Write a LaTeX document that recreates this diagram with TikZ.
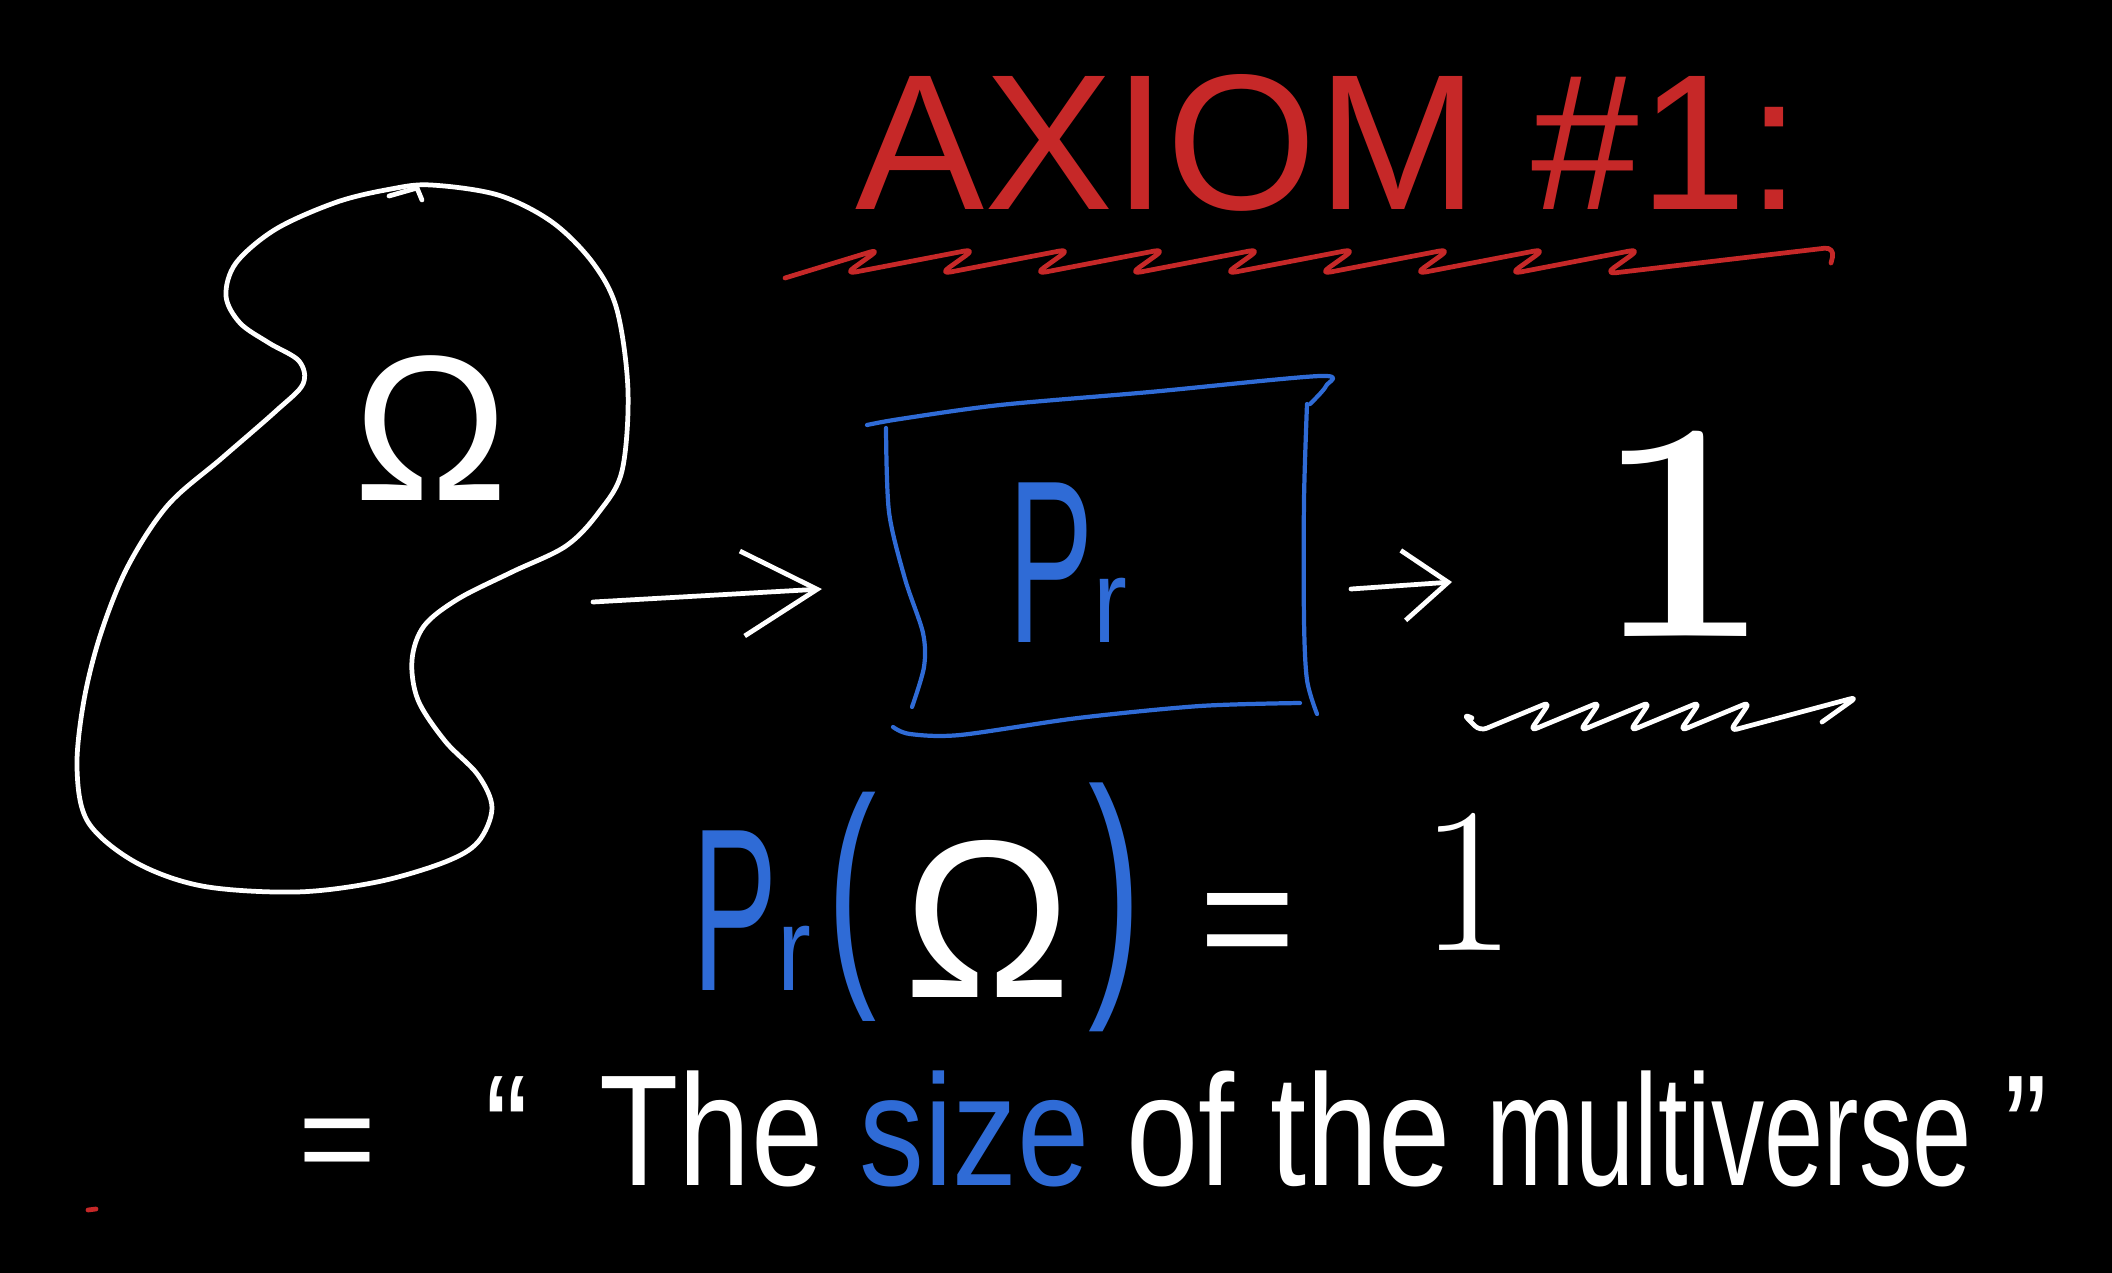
\documentclass[tikz,border=0pt]{standalone}
\usepackage{fontspec}
\usepackage{xcolor}
\usepackage{graphicx}
\usetikzlibrary{arrows.meta, positioning, calc}
\newfontfamily\handfont{Liberation Sans}

\begin{document}
\begin{tikzpicture}[x=0.01cm, y=-0.01cm,
  ink/.style={line width=1.35pt, line cap=round, line join=round},
  txt/.style={inner sep=0pt, outer sep=0pt, font=\handfont}]
% --- colours of the pens ---
\definecolor{inkred}{HTML}{C62828}
\definecolor{inkblue}{HTML}{2F6BD6}

% board
\fill[black] (0,0) rectangle (2112,1273);
\useasboundingbox (0,0) rectangle (2112,1273);

% title and its scribbled underline
\node[txt, text=inkred, anchor=base west] (title) at (855,209) {\fontsize{55}{55}\selectfont AXIOM \#1:};
\draw[ink, inkred, rounded corners=3pt] (785,278)
  \foreach \i in {0,...,8} { -- ({880+95*\i},249) -- ({845+95*\i},274) }
  -- (1835,247) -- (1831,263);

% the sample space blob
\draw[ink, white] plot[smooth cycle, tension=0.55] coordinates {
  (431,185) (498,195) (552,222) (593,263) (617,310) (628,391) (622,471)
  (599,512) (566,546) (512,572) (458,599) (424,626) (412,660) (418,700)
  (445,741) (478,775) (492,808) (478,842) (445,862) (377,882) (296,892)
  (202,886) (135,862) (88,822) (77,768) (84,700) (101,633) (128,566)
  (168,505) (222,458) (276,411) (303,384) (299,361) (269,343) (240,323)
  (226,296) (236,263) (276,229) (337,202) (391,189)};
\draw[ink, white] (389,196) -- (417,188) -- (422,200);
\node[txt, text=white, anchor=base] (omega) at (431,500) {\fontsize{59}{59}\selectfont Ω};

% arrow into the box
\coordinate (blobR) at (593,602);
\coordinate (boxL) at (822,589);
\draw[ink, white, -{Straight Barb[length=0.75cm, width=0.85cm]}] (blobR) -- (boxL);

% the Pr box
\begin{scope}[ink, inkblue, line width=1.2pt]
\draw plot[smooth, tension=0.5] coordinates {(867,425) (900,419) (1000,405) (1150,392) (1320,376) (1326,386) (1310,404)};
\draw plot[smooth, tension=0.5] coordinates {(886,428) (889,512) (905,579) (923,633) (924,667) (912,707)};
\draw plot[smooth, tension=0.5] coordinates {(1307,404) (1304,500) (1304,620) (1307,680) (1317,714)};
\draw plot[smooth, tension=0.5] coordinates {(893,727) (910,734) (960,735) (1078,718) (1200,706) (1300,703)};
\end{scope}
\node[txt, text=inkblue, anchor=base west] (prA) at (1008,642)
  {\fontsize{66}{66}\selectfont\scalebox{0.55}[1]{P}\fontsize{34}{34}\selectfont\scalebox{0.85}[1]{r}};

% arrow out of the box
\coordinate (boxR) at (1351,589);
\coordinate (oneL) at (1452,582);
\draw[ink, white, -{Straight Barb[length=0.45cm, width=0.7cm]}] (boxR) -- (oneL);

% the result and its scribble
\node[txt, text=white, anchor=base, font=\rmfamily\bfseries] (bigone) at (1684,636) {\fontsize{89}{89}\selectfont 1};
\draw[ink, white, rounded corners=2pt] (1472,718) -- (1463,714) -- (1480,731)
  \foreach \i in {0,...,4} { -- ({1550+50*\i},702) -- ({1530+50*\i},731) }
  -- (1857,697) -- (1822,722);

% Pr(Omega) = 1
\node[txt, text=inkblue, anchor=base west] (prB) at (692,990)
  {\fontsize{66}{66}\selectfont\scalebox{0.55}[1]{P}\fontsize{34}{34}\selectfont\scalebox{0.85}[1]{r}};
\node[txt, text=inkblue] (lpar) at (852,907) {\fontsize{70}{70}\selectfont\scalebox{0.6}[1]{(}};
\node[txt, text=white, anchor=base] (omegaB) at (988,997) {\fontsize{64}{64}\selectfont Ω};
\node[txt, text=inkblue] (rpar) at (1115,907) {\fontsize{76}{76}\selectfont\scalebox{0.6}[1]{)}};
\node[txt, text=white, anchor=base] (eqA) at (1248,974) {\fontsize{47}{47}\selectfont =};
\node[txt, text=white, anchor=base, font=\rmfamily] (oneB) at (1468,950) {\fontsize{59}{59}\selectfont 1};

% the words
\node[txt, text=white, anchor=base] (eqB) at (338,1184) {\fontsize{38}{38}\selectfont =};
\node[txt, text=white, anchor=base west] (quote) at (485,1185)
  {\fontsize{45}{45}\selectfont\scalebox{0.82}[1]{“\hspace{0.55em}The \textcolor{inkblue}{size} of the \scalebox{0.82}[1]{multiverse}\hspace{0.25em}”}};

% stray dot
\draw[ink, inkred] (88,1210) -- (96,1209);
\end{tikzpicture}
\end{document}
